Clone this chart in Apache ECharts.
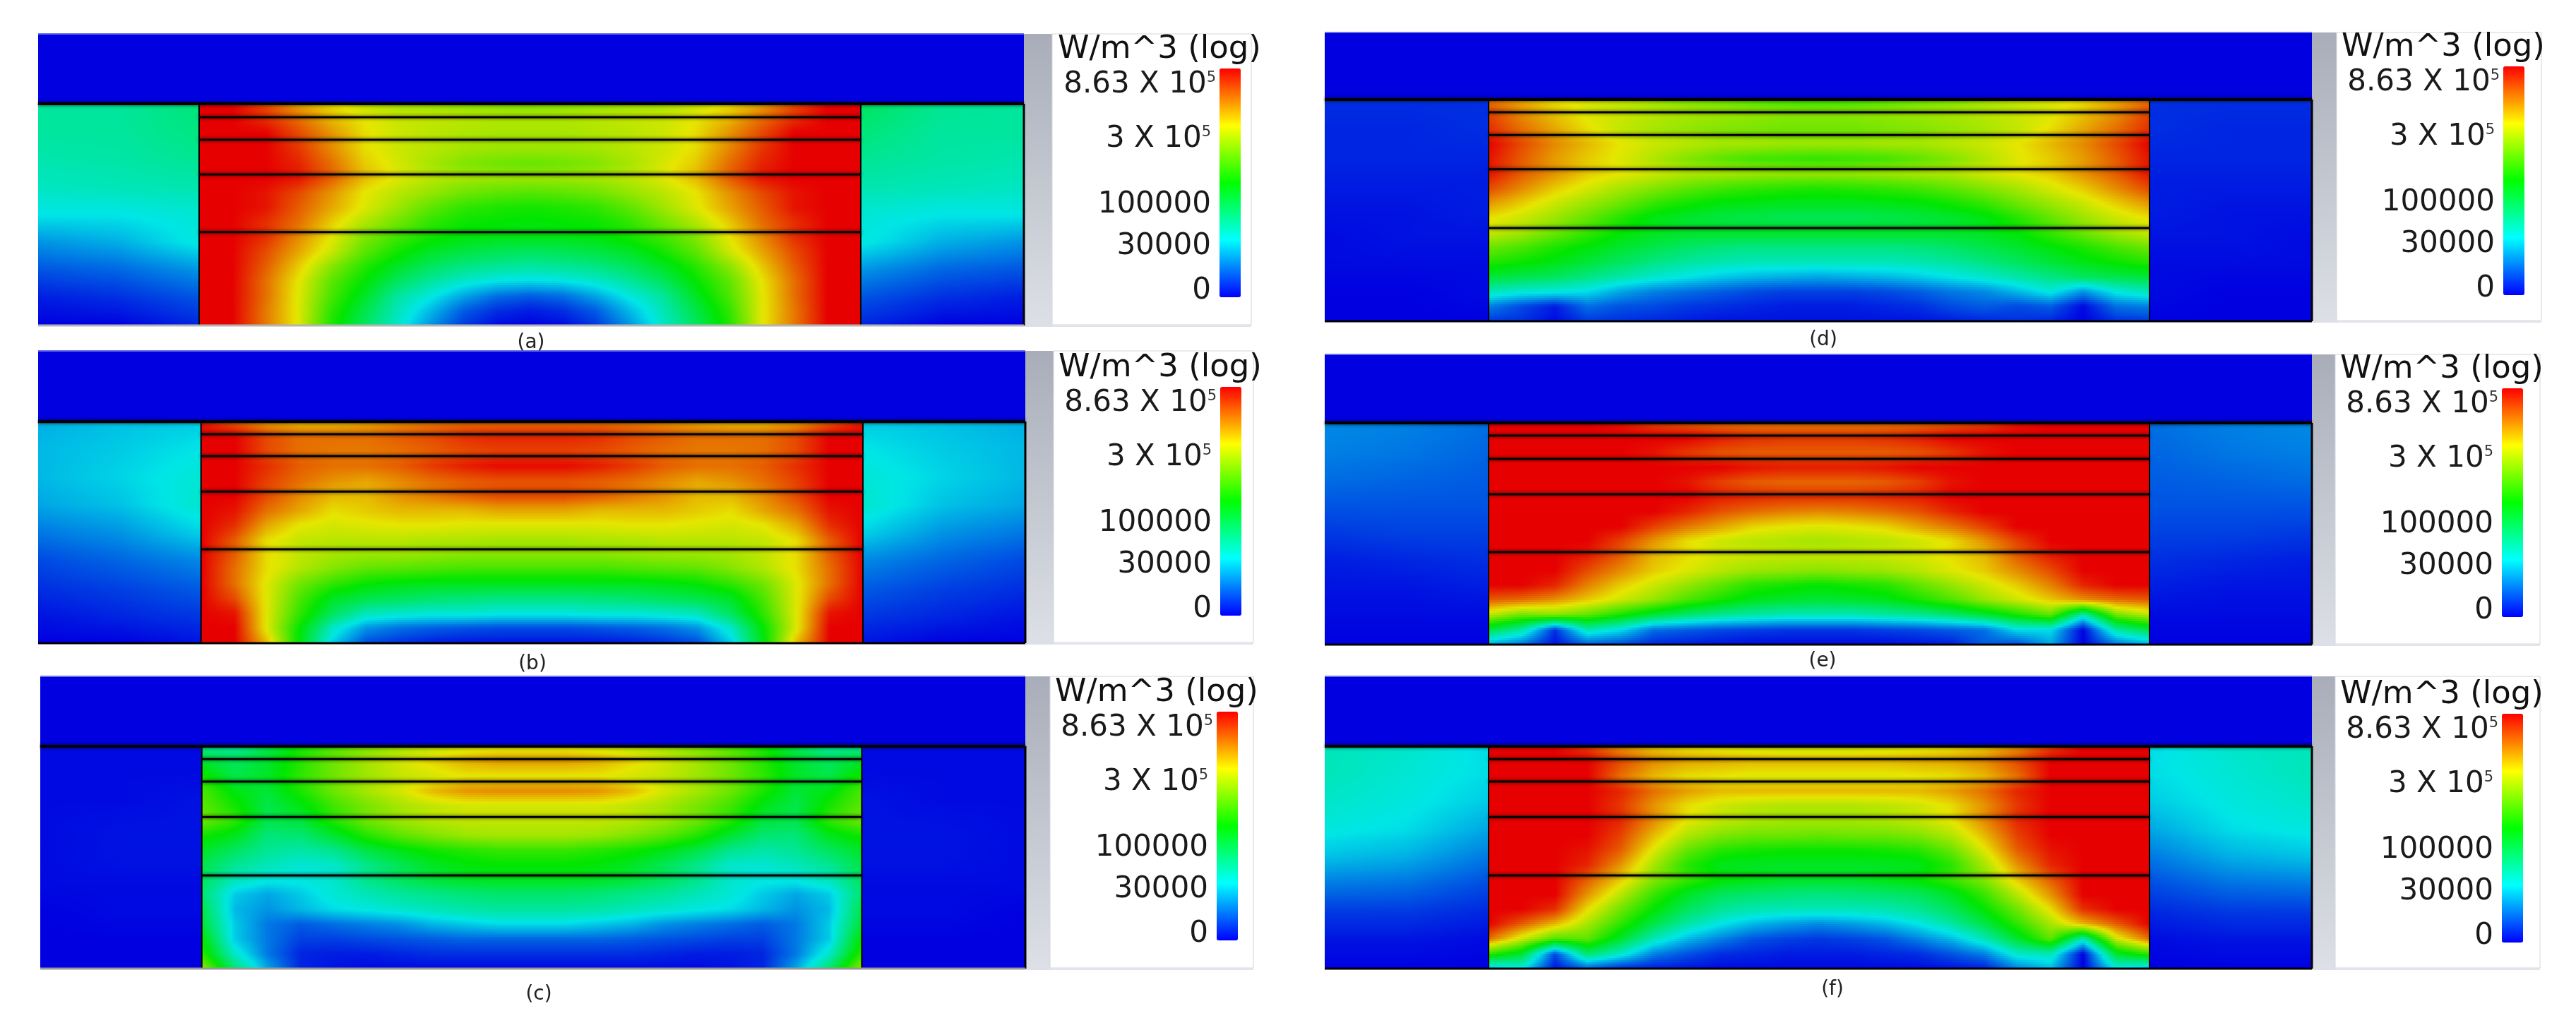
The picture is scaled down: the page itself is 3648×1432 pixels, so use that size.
<!DOCTYPE html>
<html><head><meta charset="utf-8">
<style>html,body{margin:0;padding:0;background:#fff}#c{width:3648px;height:1432px}</style>
<script src="https://cdn.jsdelivr.net/npm/echarts@6/dist/echarts.min.js"></script>
</head><body><div id="c"></div>
<script>
// Colour-scale position of each node: 0 blue, 25 cyan, 50 green, 75 yellow, 100 red
const legendTitle='W/m^3 (log)';
const tickText=['8.63 X 10','3 X 10','100000','30000','0'];
const tickExp=['5','5','','',''];
const tickPos=[92.8,69.1,40.4,22.2,2.7];
const captions=['(a)','(b)','(c)','(d)','(e)','(f)'];
const a_top=[[0,0],[0,0]],b_top=a_top,c_top=a_top,d_top=a_top,e_top=a_top,f_top=a_top;
const a_layers=[24,28.6,36.3,48.2,68];
const b_layers=[24.2,28.5,36,48.1,67.9];
const c_layers=[23.9,28.3,36,48.1,68.1];
const d_layers=[23.2,27.6,35.5,47.4,67.7];
const e_layers=[23.6,28,36,48.2,68.1];
const f_layers=[23.9,28.3,36,48.1,68.1];

const a_left=[[33,33,37],[33,33,36],[31,32,34],[29,30,31],[25,25,27],[16,19,26],[9,11,16],[3,5,9],[0,0,4]];
const a_right=[[40,34,33],[37,33,33],[34,32,31],[31,30,29],[27,25,25],[26,19,16],[16,11,9],[9,5,3],[4,0,0]];
const b_left=[[19,21,22],[20,22,25],[20,23,27],[18,21,28],[13,16,23],[8,11,15],[5,7,10],[2,4,6],[0,0,2]];
const b_right=[[22,21,19],[25,22,20],[27,23,20],[28,21,18],[23,16,13],[15,11,8],[10,7,5],[6,4,2],[2,0,0]];
const c_left=[[1,1,1],[1,1,1],[1,1,2],[1,2,2],[1,2,2],[1,1,1],[0,1,1],[0,0,0],[0,0,0]];
const c_right=[[1,1,1],[1,1,1],[2,1,1],[2,2,1],[2,2,1],[1,1,1],[1,1,0],[0,0,0],[0,0,0]];
const d_left=[[5,5,5],[4,4,5],[4,4,4],[3,3,3],[2,2,3],[1,2,2],[1,1,1],[0,0,1],[0,0,0]];
const d_right=[[5,5,5],[5,4,4],[4,4,4],[3,3,3],[3,2,2],[2,2,1],[1,1,1],[1,0,0],[0,0,0]];
const e_left=[[15,14,12],[14,13,11],[12,11,10],[9,9,9],[6,7,7],[3,4,5],[2,2,3],[1,1,1],[0,0,0]];
const e_right=[[12,14,15],[11,13,14],[10,11,12],[9,9,9],[7,7,6],[5,4,3],[3,2,2],[1,1,1],[0,0,0]];
const f_left=[[30,28,24],[30,27,24],[28,26,22],[26,24,18],[21,19,13],[13,12,8],[6,6,4],[2,2,1],[0,0,0]];
const f_right=[[24,28,30],[24,27,30],[22,26,28],[18,24,26],[13,19,21],[8,12,13],[4,6,6],[1,2,2],[0,0,0]];

const a_center=[
[100,100,92,82,76,71,68,67,66,65,64,65,66,67,68,71,76,82,92,100,100],
[100,100,95,88,80,75,72,71,70,69,69,69,70,71,72,75,80,88,95,100,100],
[100,100,100,92,84,76,72,70,69,68,68,68,69,70,72,76,84,92,100,100,100],
[100,100,100,94,85,76,72,70,68,67,67,67,68,70,72,76,85,94,100,100,100],
[100,100,100,96,88,78,73,68,64,62,61,62,64,68,73,78,88,96,100,100,100],
[100,100,100,98,90,80,74,70,68,67,67,67,68,70,74,80,90,98,100,100,100],
[100,100,98,92,84,75,70,66,62,60,59,60,62,66,70,75,84,92,98,100,100],
[100,100,98,90,82,74,67,60,55,53,52,53,55,60,67,74,82,90,98,100,100],
[100,100,95,88,78,69,62,55,51,50,49,50,51,55,62,69,78,88,95,100,100],
[100,100,95,85,75,64,57,52,49,48,48,48,49,52,57,64,75,85,95,100,100],
[100,100,92,82,72,60,52,46,43,41,40,41,43,46,52,60,72,82,92,100,100],
[100,100,90,78,65,54,46,40,36,34,33,34,36,40,46,54,65,78,90,100,100],
[100,100,88,75,60,50,40,33,28,25,24,25,28,33,40,50,60,75,88,100,100],
[100,100,88,74,58,46,33,26,18,12,10,12,18,26,33,46,58,74,88,100,100],
[100,100,87,74,55,42,30,20,10,5,3,5,10,20,30,42,55,74,87,100,100],
[100,100,87,74,53,40,28,16,6,1,0,1,6,16,28,40,53,74,87,100,100]];

const b_center=[
[98,90,83,80,80,82,85,87,88,88,88,88,88,87,85,82,80,80,83,90,98],
[100,100,92,88,88,88,90,92,95,96,96,96,95,92,90,88,88,88,92,100,100],
[100,100,92,88,87,87,88,90,92,93,93,93,92,90,88,87,87,88,92,100,100],
[100,100,95,90,88,88,90,94,97,99,99,99,97,94,90,88,88,90,95,100,100],
[100,100,93,88,84,82,85,88,90,91,91,91,90,88,85,82,84,88,93,100,100],
[100,100,92,85,80,80,84,87,90,92,92,92,90,87,84,80,80,85,92,100,100],
[100,98,88,82,76,78,80,80,80,82,82,82,80,80,80,78,76,82,88,98,100],
[100,95,82,75,73,74,75,75,74,74,74,74,74,75,75,74,73,75,82,95,100],
[100,90,76,71,70,70,70,69,69,68,68,68,69,69,70,70,70,71,76,90,100],
[100,90,76,71,68,67,67,66,65,65,65,65,65,66,67,67,68,71,76,90,100],
[100,88,76,69,64,60,59,58,57,57,57,57,57,58,59,60,64,69,76,88,100],
[100,88,74,62,55,50,48,47,47,47,47,47,47,47,48,50,55,62,74,88,100],
[100,92,74,58,46,42,40,38,37,36,36,36,37,38,40,42,46,58,74,92,100],
[100,98,74,55,40,30,28,27,27,26,26,26,27,27,28,30,40,55,74,98,100],
[100,100,74,50,28,16,12,10,9,8,8,8,9,10,12,16,28,50,74,100,100],
[100,100,80,48,22,8,5,3,2,2,2,2,2,3,5,8,22,48,80,100,100]];

const c_center=[
[34,33,42,52,58,63,67,70,72,73,73,73,72,70,67,63,58,52,42,33,34],
[45,40,45,54,62,68,73,77,81,83,83,83,81,77,73,68,62,54,45,40,45],
[52,42,46,55,62,67,71,73,75,75,75,75,75,73,71,67,62,55,46,42,52],
[58,48,44,53,62,68,73,80,84,85,85,85,84,80,73,68,62,53,44,48,58],
[60,52,42,48,57,63,68,71,73,73,73,73,73,71,68,63,57,48,42,52,60],
[62,55,42,44,54,62,67,70,71,71,71,71,71,70,67,62,54,44,42,55,62],
[52,47,37,38,45,54,60,64,67,68,68,68,67,64,60,54,45,38,37,47,52],
[46,40,34,32,35,43,48,52,54,56,56,56,54,52,48,43,35,32,34,40,46],
[42,34,30,27,28,35,41,46,49,50,50,50,49,46,41,35,28,27,30,34,42],
[40,30,26,26,28,35,40,44,46,47,47,47,46,44,40,35,28,26,26,30,40],
[38,22,18,22,27,30,33,35,37,38,38,38,37,35,33,30,27,22,18,22,38],
[42,20,16,20,24,26,28,30,32,33,33,33,32,30,28,26,24,20,16,20,42],
[44,22,13,10,12,14,16,20,22,24,24,24,22,20,16,14,12,10,13,22,44],
[50,22,13,7,7,8,9,10,11,11,11,11,11,10,9,8,7,7,13,22,50],
[55,28,13,4,3,3,4,5,5,5,5,5,5,5,4,3,3,4,13,28,55],
[66,38,18,4,2,1,1,1,1,1,1,1,1,1,1,1,2,4,18,38,66]];

const d_center=[
[88,82,76,73,70,67,64,62,59,57,56,57,59,62,64,67,70,73,76,82,88],
[93,85,79,74,72,70,68,67,66,65,65,65,66,67,68,70,72,74,79,85,93],
[95,88,82,76,71,68,66,64,63,62,62,62,63,64,66,68,71,76,82,88,95],
[100,92,85,80,75,72,70,68,68,67,67,67,68,68,70,72,75,80,85,92,100],
[98,90,83,78,74,69,64,60,57,56,55,56,57,60,64,69,74,78,83,90,98],
[98,90,84,78,75,72,69,68,67,66,66,66,67,68,69,72,75,78,84,90,98],
[92,85,78,73,68,64,60,57,55,54,53,54,55,57,60,64,68,73,78,85,92],
[84,78,72,67,62,56,52,49,48,47,47,47,48,49,52,56,62,67,72,78,84],
[76,72,67,61,54,48,45,43,42,41,41,41,42,43,45,48,54,61,67,72,76],
[72,68,62,56,50,47,46,46,46,46,46,46,46,46,46,47,50,56,62,68,72],
[62,58,53,49,45,42,39,37,36,36,36,36,36,37,39,42,45,49,53,58,62],
[54,51,48,44,40,36,33,31,30,30,30,30,30,31,33,36,40,44,48,51,54],
[44,42,40,36,32,28,25,22,20,19,18,19,20,22,25,28,32,36,40,42,44],
[30,27,26,24,18,14,12,10,8,7,7,7,8,10,13,15,20,26,16,26,30],
[14,8,3,12,9,8,6,5,4,3,3,3,4,5,8,10,8,10,1,12,14],
[6,5,1,6,5,4,3,2,2,2,2,2,2,2,3,4,5,4,0,5,6]];

const e_center=[
[100,100,100,100,98,93,90,88,87,87,87,87,87,88,90,93,98,100,100,100,100],
[100,100,100,100,100,100,100,97,95,94,94,94,95,97,100,100,100,100,100,100,100],
[100,100,100,100,100,98,94,91,90,90,90,90,90,91,94,98,100,100,100,100,100],
[100,100,100,100,100,100,100,100,98,97,97,97,98,100,100,100,100,100,100,100,100],
[100,100,100,100,100,100,98,93,90,89,89,89,90,93,98,100,100,100,100,100,100],
[100,100,100,100,100,100,100,97,96,95,95,95,96,97,100,100,100,100,100,100,100],
[100,100,100,100,100,100,96,91,88,86,85,86,88,91,96,100,100,100,100,100,100],
[100,100,100,100,100,93,87,82,77,75,74,75,77,82,87,93,100,100,100,100,100],
[100,100,100,100,93,84,76,72,70,69,68,69,70,72,76,84,93,100,100,100,100],
[100,100,100,97,90,80,76,73,72,71,71,71,72,73,76,80,90,97,100,100,100],
[100,100,100,92,85,78,74,70,67,66,65,66,67,70,74,78,85,92,100,100,100],
[100,100,96,86,78,72,66,60,54,52,50,52,54,60,66,72,78,86,96,100,100],
[90,88,84,78,72,66,58,52,47,45,44,45,47,52,58,66,72,78,84,88,90],
[70,62,64,60,52,44,38,34,32,30,30,30,32,34,38,44,52,60,30,62,70],
[42,32,5,30,24,12,10,8,7,6,6,6,7,8,10,12,24,24,0,32,42],
[18,12,2,10,8,4,3,2,1,1,1,1,1,2,3,10,8,18,0,12,18]];

const f_center=[
[100,100,100,93,84,78,75,73,72,71,71,71,72,73,75,78,84,93,100,100,100],
[100,100,100,100,92,85,82,81,80,80,80,80,80,81,82,85,92,100,100,100,100],
[100,100,100,100,88,80,76,75,74,74,74,74,74,75,76,80,88,100,100,100,100],
[100,100,100,100,96,88,83,80,80,80,80,80,80,80,83,88,96,100,100,100,100],
[100,100,100,100,94,84,76,72,70,69,69,69,70,72,76,84,94,100,100,100,100],
[100,100,100,100,96,85,75,71,69,68,68,68,69,71,75,85,96,100,100,100,100],
[100,100,100,100,93,80,69,64,62,62,61,62,62,64,69,80,93,100,100,100,100],
[100,100,100,98,90,74,61,54,52,51,51,51,52,54,61,74,90,98,100,100,100],
[100,100,100,96,84,68,54,47,46,46,46,46,46,47,54,68,84,96,100,100,100],
[100,100,100,90,78,64,56,50,48,46,46,46,48,50,56,64,78,90,100,100,100],
[100,100,100,84,70,56,46,40,38,37,36,37,38,40,46,56,70,84,100,100,100],
[100,100,95,76,62,50,40,34,31,30,30,30,31,34,40,50,62,76,95,100,100],
[100,90,80,68,55,42,32,25,20,17,15,17,20,25,32,42,55,68,80,90,100],
[88,72,58,60,45,30,20,14,9,7,6,7,9,14,20,30,45,60,30,72,88],
[55,45,8,38,28,14,9,5,4,3,3,3,4,5,9,14,28,30,0,45,55],
[20,25,2,10,4,3,2,1,1,1,1,1,1,1,2,3,14,20,0,25,20]];

// Layout (pixels of the page)
const FONT='"DejaVu Sans"';
const PANELS=[
 {grid:[54,48,1396,413],inner:[16.33,83.45],layers:a_layers,center:a_center,left:a_left,right:a_right,top:a_top,bar:[1727,97],cap:[752,489],strip:[1450,1490],boxEnd:1772,bottom:'#b4b4b4'},
 {grid:[54,497,1398,414],inner:[16.5,83.55],layers:b_layers,center:b_center,left:b_left,right:b_right,top:b_top,bar:[1728,548],cap:[754,944],strip:[1452,1492],boxEnd:1775,bottom:'#000'},
 {grid:[57,958,1395,414],inner:[16.4,83.4],layers:c_layers,center:c_center,left:c_left,right:c_right,top:c_top,bar:[1723,1008],cap:[763,1412],strip:[1452,1487],boxEnd:1775,bottom:'#999'},
 {grid:[1876,46,1398,409],inner:[16.6,83.55],layers:d_layers,center:d_center,left:d_left,right:d_right,top:d_top,bar:[3545,94],cap:[2582,485],strip:[3274,3309],boxEnd:3599,bottom:'#000'},
 {grid:[1876,502,1398,411],inner:[16.6,83.55],layers:e_layers,center:e_center,left:e_left,right:e_right,top:e_top,bar:[3543,550],cap:[2581,940],strip:[3274,3307],boxEnd:3597,bottom:'#000'},
 {grid:[1876,958,1398,414],inner:[16.6,83.55],layers:f_layers,center:f_center,left:f_left,right:f_right,top:f_top,bar:[3543,1011],cap:[2595,1405],strip:[3274,3307],boxEnd:3597,bottom:'#000'}
];
const FIELD=[[0,0,225],[0,230,230],[0,230,0],[230,230,0],[230,0,0]];
const BAR=['#0000ff','#00ffff','#00ff00','#ffff00','#ff0000'];
function shade(v){
  v=Math.max(0,Math.min(100,v))/25; const k=Math.min(3,Math.floor(v)), t=v-k, a=FIELD[k], b=FIELD[k+1];
  return 'rgb('+Math.round(a[0]+(b[0]-a[0])*t)+','+Math.round(a[1]+(b[1]-a[1])*t)+','+Math.round(a[2]+(b[2]-a[2])*t)+')';
}
const grid=[],xAxis=[],yAxis=[],series=[],visualMap=[],title=[],graphic=[];
function region(g,table,x0,x1,y0,y1){
  const R=table.length-1,C=table[0].length-1,data=[];
  table.forEach((row,j)=>row.forEach((v,i)=>data.push([x0+(x1-x0)*i/C,y0+(y1-y0)*j/R,v,i,j])));
  series.push({type:'custom',xAxisIndex:g,yAxisIndex:g,silent:true,animation:false,progressive:0,clip:false,
    encode:{x:0,y:1},data,
    renderItem(p,api){
      const i=api.value(3),j=api.value(4);
      if(i>=C||j>=R) return;
      const a=api.coord([api.value(0),api.value(1)]),
            b=api.coord([x0+(x1-x0)*(i+1)/C,y0+(y1-y0)*(j+1)/R]);
      const X0=Math.round(a[0]),X1=Math.round(b[0]),Y0=Math.round(a[1]),Y1=Math.round(b[1]);
      const v00=table[j][i],v10=table[j][i+1],v01=table[j+1][i],v11=table[j+1][i+1];
      const flat=v00===v10&&v00===v01&&v00===v11;
      const children=[];
      if(flat){children.push({type:'rect',shape:{x:X0,y:Y0,width:X1-X0,height:Y1-Y0},style:{fill:shade(v00)}});}
      else for(let y=Y0;y<Y1;y+=3){
        const h=Math.min(3,Y1-y),t=(y+h/2-Y0)/(Y1-Y0),L=v00+(v01-v00)*t,Rv=v10+(v11-v10)*t,stops=[];
        for(let s=0;s<=8;s++)stops.push({offset:s/8,color:shade(L+(Rv-L)*s/8)});
        children.push({type:'rect',shape:{x:X0,y,width:X1-X0,height:h},style:{fill:new echarts.graphic.LinearGradient(0,0,1,0,stops)}});
      }
      return {type:'group',children};
    }});
}
function seg(g,pts,color,width,blur){
  series.push({type:'line',xAxisIndex:g,yAxisIndex:g,silent:true,animation:false,symbol:'none',data:pts,clip:false,
    lineStyle:{color,width,shadowColor:'rgba(0,0,0,.75)',shadowBlur:blur||0}});
}
PANELS.forEach((P,n)=>{
  const [L,T,W,H]=P.grid,[i0,i1]=P.inner,mid=P.layers[0];
  graphic.push({type:'rect',shape:{x:P.strip[0],y:T,width:P.strip[1]-P.strip[0],height:H+2},z:0,silent:true,
    style:{fill:new echarts.graphic.LinearGradient(0,0,0,1,[{offset:0,color:'#a8adb9'},{offset:1,color:'#dde0e6'}])}});
  graphic.push({type:'rect',shape:{x:P.strip[1],y:T,width:P.boxEnd-P.strip[1],height:H-1},z:0,silent:true,
    style:{fill:'#fff',stroke:'#d4d6dc',lineWidth:1}});
  graphic.push({type:'rect',shape:{x:P.strip[1],y:T+H-1,width:P.boxEnd-P.strip[1],height:3},z:0,silent:true,style:{fill:'#e2e4ea'}});
  grid.push({left:L,top:T,width:W,height:H,show:false});
  xAxis.push({type:'value',gridIndex:n,min:0,max:100,show:false});
  yAxis.push({type:'value',gridIndex:n,min:0,max:100,inverse:true,show:false});
  region(n,P.top,0,100,0,mid);
  region(n,P.left,0,i0,mid,100);
  region(n,P.center,i0,i1,mid,100);
  region(n,P.right,i1,100,mid,100);
  seg(n,[[0,0],[100,0]],'#6a70ea',2);
  P.layers.forEach((y,k)=>seg(n,k===0?[[0,y],[100,y]]:[[i0,y],[i1,y]],'#000',k===0?4:3,5));
  seg(n,[[i0,mid],[i0,100]],'#000',2);
  seg(n,[[i1,mid],[i1,100]],'#000',2);
  seg(n,[[100,mid],[100,100]],'#000',3);
  seg(n,[[0,100],[100,100]],P.bottom,3);
});
PANELS.forEach((P,n)=>{
  const g=PANELS.length+n,[bx,by]=P.bar;
  grid.push({left:bx,top:by,width:30,height:324,show:false});
  xAxis.push({type:'value',gridIndex:g,min:0,max:1,show:false});
  yAxis.push({type:'value',gridIndex:g,min:0,max:100,axisLine:{show:false},axisTick:{show:false},splitLine:{show:false},
    axisLabel:{show:true,margin:5,showMinLabel:true,showMaxLabel:true,customValues:tickPos,
      formatter(v){const k=tickPos.indexOf(v);
        if(k<0)return '';
        if(k===0)return '{a|'+tickText[k]+'}{b|'+tickExp[k]+'}';
        return tickExp[k]?'{a|'+tickText[k]+'}{c|'+tickExp[k]+'}':'{d|'+tickText[k]+'}';},
      rich:{a:{fontFamily:FONT,fontSize:42,color:'#1a1a1a'},
            d:{fontFamily:FONT,fontSize:42,color:'#1a1a1a',padding:[0,7,0,0]},
            b:{fontFamily:FONT,fontSize:21,color:'#333',padding:[0,0,20,0]},
            c:{fontFamily:FONT,fontSize:21,color:'#333',padding:[0,7,20,0]}}}});
  visualMap.push({type:'continuous',min:0,max:100,show:true,calculable:false,hoverLink:false,left:bx,top:by,padding:0,
    itemWidth:30,itemHeight:324,inRange:{color:BAR},seriesIndex:n*0,dimension:2});
  title.push({text:legendTitle,left:bx-229,top:by-49,padding:0,textStyle:{fontFamily:FONT,fontSize:45,fontWeight:'normal',color:'#111'}});
  title.push({text:captions[n],left:P.cap[0],top:P.cap[1]-17,padding:0,textAlign:'center',textStyle:{fontFamily:FONT,fontSize:28,fontWeight:'normal',color:'#222'}});
});
const chart=echarts.init(document.getElementById('c'),null,{renderer:'canvas'});
chart.setOption({animation:false,backgroundColor:'#fff',tooltip:{show:false},grid,xAxis,yAxis,series,visualMap,title,graphic:{elements:graphic}});
</script></body></html>
